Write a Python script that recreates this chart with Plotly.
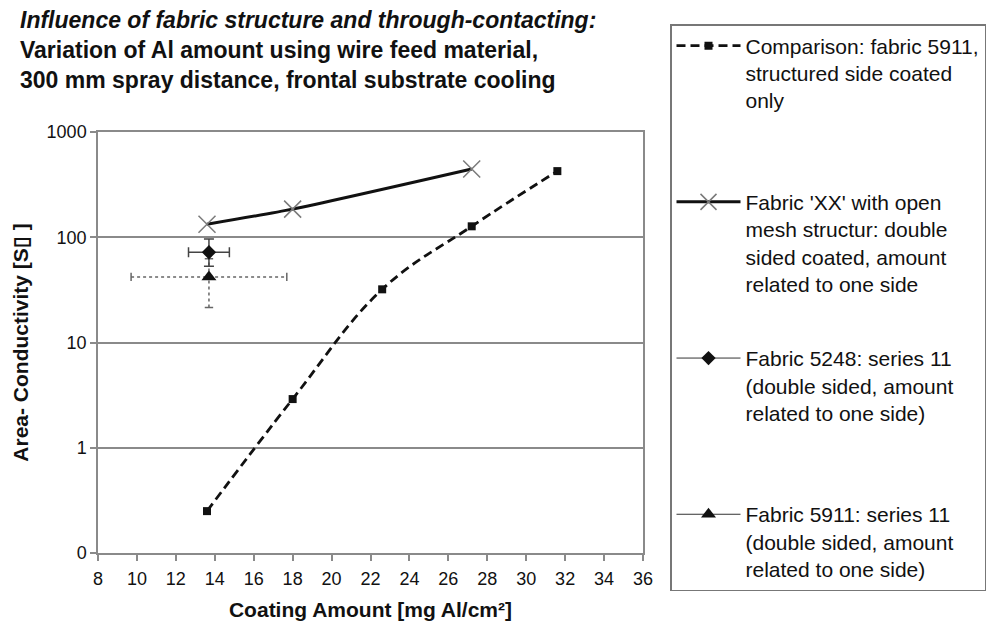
import plotly.graph_objects as go

# ---- data ----
cmp_x = [13.6, 18.0, 22.6, 27.2, 31.6]
cmp_y = [0.25, 2.9, 32, 127, 425]

xx_x = [13.6, 18.0, 27.2]
xx_y = [133, 185, 445]

f5248_x = [13.7]
f5248_y = [72]
f5248_xerr = [1.05]
f5248_yerr_plus = [24]
f5248_yerr_minus = [19]

f5911_x = [13.7]
f5911_y = [42]
f5911_xerr = [4.0]
f5911_yerr = [20.5]

x_ticks = list(range(8, 37, 2))
y_tickvals = [0.1, 1, 10, 100, 1000]
y_ticktext = ["0", "1", "10", "100", "1000"]

names = [
    "Comparison: fabric 5911,<br>structured side coated<br>only<br> ",
    "Fabric 'XX' with open<br>mesh structur: double<br>sided coated, amount<br>related to one side",
    "Fabric 5248: series 11<br>(double sided, amount<br>related to one side)<br> ",
    "Fabric 5911: series 11<br>(double sided, amount<br>related to one side)",
]

FONT = "Liberation Sans, Arial, sans-serif"
GRAY = "#8a8a8a"
INK = "#111111"

fig = go.Figure()

# dotted error bars for fabric 5911 (drawn from the data arrays)
for xc, yc, ex, ey in zip(f5911_x, f5911_y, f5911_xerr, f5911_yerr):
    fig.add_trace(go.Scatter(
        x=[xc - ex, xc + ex], y=[yc, yc], mode="lines+markers",
        line=dict(color="#666666", width=1.5, dash="dot"),
        marker=dict(symbol="line-ns", size=6, line=dict(color="#666666", width=1.5)),
        showlegend=False, hoverinfo="skip"))
    fig.add_trace(go.Scatter(
        x=[xc, xc], y=[yc - ey, yc + ey], mode="lines+markers",
        line=dict(color="#666666", width=1.5, dash="dot"),
        marker=dict(symbol="line-ew", size=6, line=dict(color="#666666", width=1.5)),
        showlegend=False, hoverinfo="skip"))

fig.add_trace(go.Scatter(
    x=cmp_x, y=cmp_y, name=names[0], mode="lines+markers", legendgroup="a",
    line=dict(color=INK, width=2.8, dash="9px,5px", shape="spline", smoothing=1.1),
    marker=dict(symbol="square", size=8, color=INK)))

fig.add_trace(go.Scatter(
    x=xx_x, y=xx_y, name=names[1], mode="lines+markers", legendgroup="b",
    line=dict(color=INK, width=3, shape="spline", smoothing=0.6),
    marker=dict(symbol="x-thin", size=17, color=GRAY, line=dict(color="#7a7a7a", width=1.5))))

fig.add_trace(go.Scatter(
    x=f5248_x, y=f5248_y, name=names[2], mode="lines+markers", legendgroup="c",
    line=dict(color="#333333", width=1),
    marker=dict(symbol="diamond", size=11, color=INK),
    error_x=dict(type="data", array=f5248_xerr, color="#444444", thickness=1.5, width=5),
    error_y=dict(type="data", symmetric=False, array=f5248_yerr_plus,
                 arrayminus=f5248_yerr_minus, color="#444444", thickness=1.5, width=5)))

fig.add_trace(go.Scatter(
    x=f5911_x, y=f5911_y, name=names[3], mode="lines+markers", legendgroup="d",
    line=dict(color="#333333", width=1),
    marker=dict(symbol="triangle-up", size=13, color=INK)))

fig.update_layout(
    width=999, height=631,
    paper_bgcolor="white", plot_bgcolor="white",
    margin=dict(l=98, r=356, t=132, b=78, autoexpand=False),
    font=dict(family=FONT, color=INK, size=18),
    showlegend=True,
    legend=dict(
        x=(670 - 98) / 545, y=(553 - 24) / 421, xanchor="left", yanchor="top",
        bordercolor="#777777", borderwidth=1.5, bgcolor="white",
        font=dict(family=FONT, size=21, color=INK),
        traceorder="grouped", tracegroupgap=44, valign="top", itemwidth=64,
        maxheight=620,
    ),
    xaxis=dict(
        range=[8, 36], tickvals=x_ticks, ticks="outside", ticklen=6, tickwidth=1.5,
        tickcolor=GRAY, showline=True, linecolor=GRAY, linewidth=1.5, mirror=True,
        showgrid=False, zeroline=False, tickfont=dict(size=18), ticklabelstandoff=3,
        title=dict(text="<b>Coating Amount [mg Al/cm²]</b>", font=dict(size=21), standoff=14),
    ),
    yaxis=dict(
        type="log", range=[-1, 3], tickvals=y_tickvals, ticktext=y_ticktext,
        ticks="outside", ticklen=6, tickwidth=1.5, tickcolor=GRAY,
        showline=True, linecolor=GRAY, linewidth=1.5, mirror=True,
        showgrid=True, gridcolor=GRAY, gridwidth=1.5, zeroline=False,
        tickfont=dict(size=18),
        title=dict(text="<b>Area- Conductivity [S▯ ]</b>", font=dict(size=21), standoff=12),
    ),
)

title_lines = [
    ("<b><i>Influence of fabric structure and through-contacting:</i></b>", 20),
    ("<b>Variation of Al amount using wire feed material,</b>", 50),
    ("<b>300 mm spray distance, frontal substrate cooling</b>", 80),
]
for txt, ypx in title_lines:
    fig.add_annotation(
        text=txt, xref="paper", yref="paper",
        x=(18 - 98) / 545, y=(553 - ypx) / 421, xanchor="left", yanchor="middle",
        showarrow=False, font=dict(family=FONT, size=23, color=INK))

fig.write_html("out.html", config={"displayModeBar": False},
               post_script="document.body.style.margin='0px';")
